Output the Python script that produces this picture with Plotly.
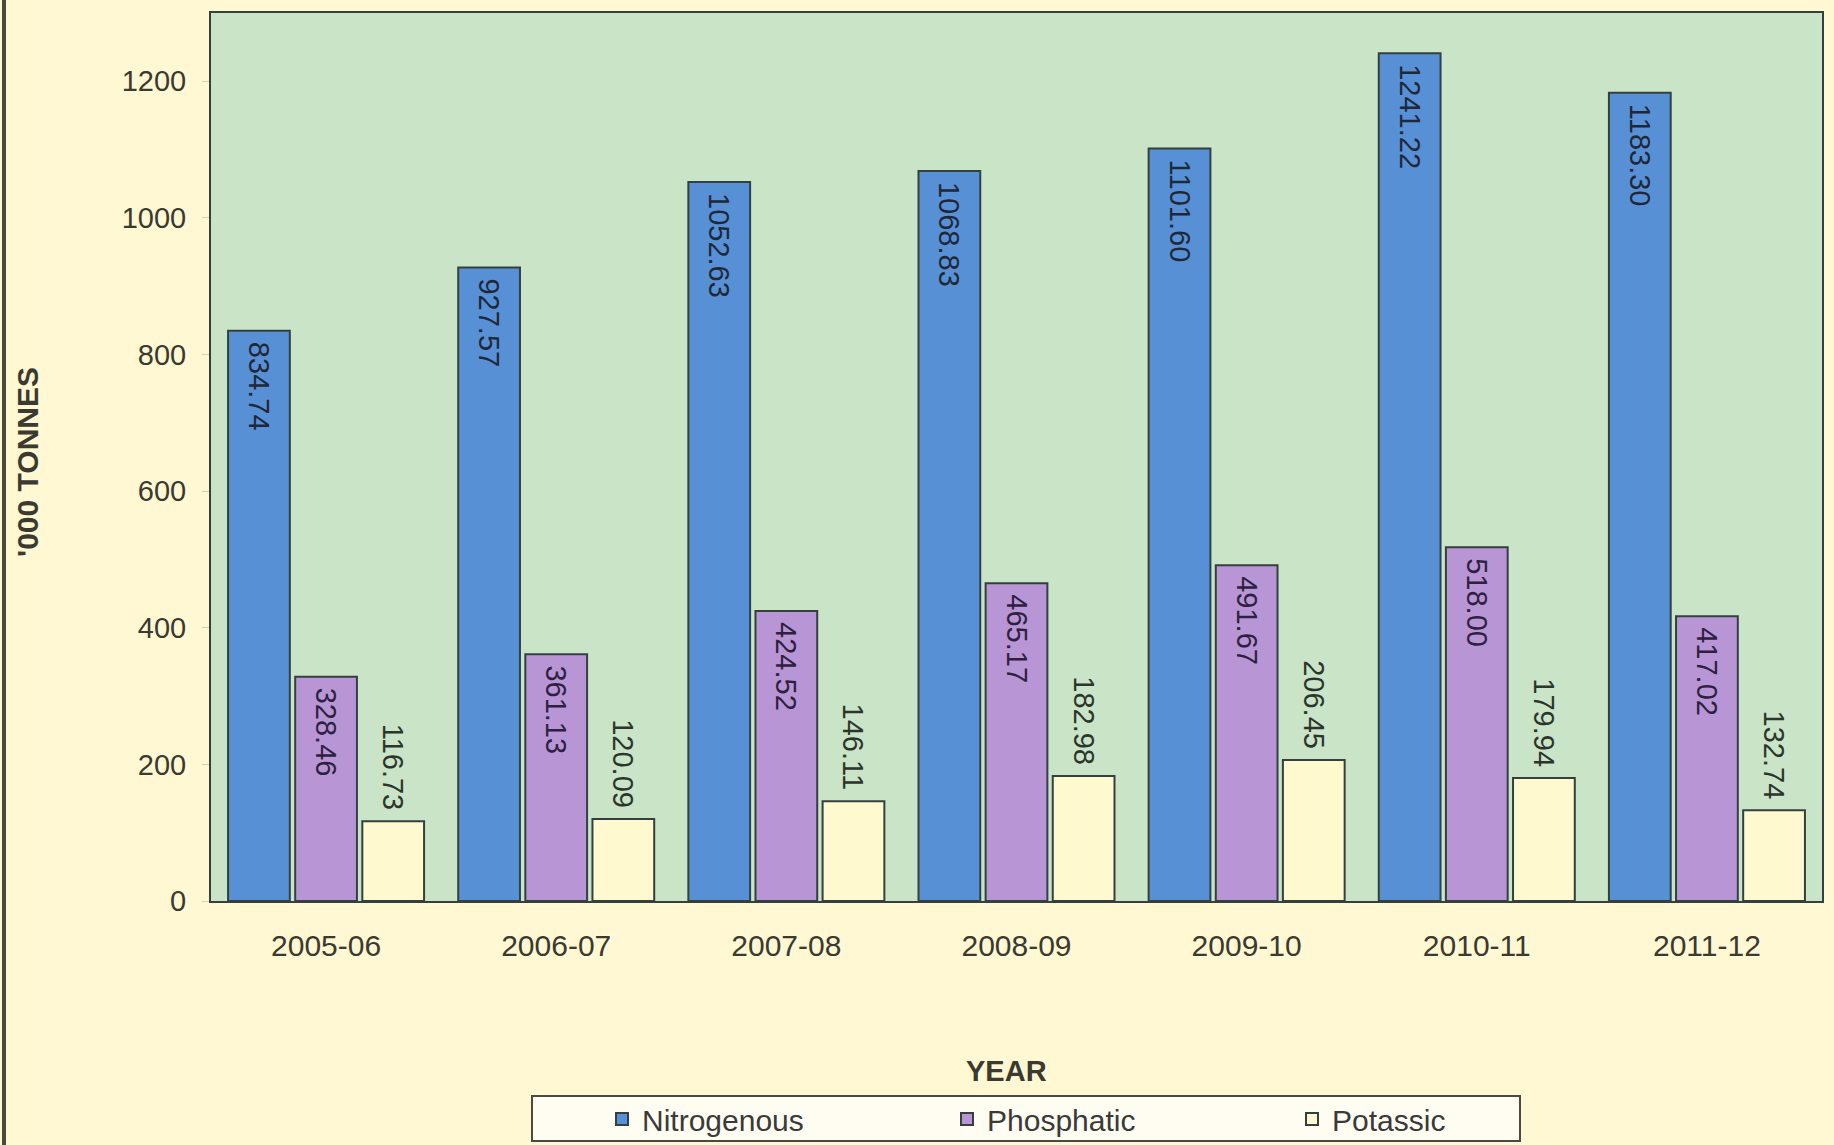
import plotly.graph_objects as go

years = ["2005-06", "2006-07", "2007-08", "2008-09", "2009-10", "2010-11", "2011-12"]
nitrogenous = [834.74, 927.57, 1052.63, 1068.83, 1101.60, 1241.22, 1183.30]
phosphatic = [328.46, 361.13, 424.52, 465.17, 491.67, 518.00, 417.02]
potassic = [116.73, 120.09, 146.11, 182.98, 206.45, 179.94, 132.74]
y_ticks = [0, 200, 400, 600, 800, 1000, 1200]

FONT = "Liberation Sans, Arial, sans-serif"
OUTLINE = "#33403f"
NB = "\u00a0"

fig = go.Figure()
series = [
    ("Nitrogenous", nitrogenous, "rgb(88,144,214)", "inside", "#1e2838"),
    ("Phosphatic", phosphatic, "rgb(184,150,214)", "inside", "#2e2040"),
    ("Potassic", potassic, "rgb(255,249,208)", "outside", "#2c352c"),
]
for name, vals, color, pos, tcolor in series:
    if pos == "inside":
        labels = [NB + f"{v:.2f}" for v in vals]
    else:
        labels = [f"{v:.2f}" + NB for v in vals]
    fig.add_trace(go.Bar(
        name=name, x=years, y=vals,
        marker=dict(color=color, line=dict(color=OUTLINE, width=2)),
        text=labels,
        textposition=pos,
        insidetextanchor="end",
        textangle=90,
        textfont=dict(family=FONT, size=29, color=tcolor),
        constraintext="none",
        cliponaxis=False,
    ))

fig.update_layout(
    width=1834, height=1145,
    paper_bgcolor="rgb(255,248,210)",
    plot_bgcolor="rgb(201,228,199)",
    margin=dict(l=211, r=12, t=13, b=244, autoexpand=False),
    barmode="group",
    bargap=0.125,
    bargroupgap=0.08,
    font=dict(family=FONT, size=29, color="#3a3a30"),
    showlegend=True,
    legend=dict(
        orientation="h",
        x=(602 - 211) / 1611, xanchor="left",
        yref="container", y=1 - 1119 / 1145, yanchor="middle",
        bgcolor="rgba(0,0,0,0)",
        entrywidth=300, entrywidthmode="pixels",
        font=dict(family=FONT, size=30, color="#3a3a3a"),
        traceorder="normal",
    ),
    xaxis=dict(
        type="category",
        showline=True, linecolor=OUTLINE, linewidth=2, mirror=True,
        ticks="", ticklabelstandoff=17,
        tickfont=dict(size=30, color="#3a3a30"),
        showgrid=False,
    ),
    yaxis=dict(
        range=[0, 1300], tickvals=y_ticks,
        showline=True, linecolor=OUTLINE, linewidth=2, mirror=True,
        ticks="outside", ticklen=7, tickcolor="#d8d0b0", ticklabelstandoff=10,
        tickfont=dict(size=29, color="#3a3a30"),
        showgrid=False, zeroline=False,
    ),
    shapes=[
        dict(type="rect", xref="paper", yref="paper",
             x0=(532 - 211) / 1611, x1=(1520 - 211) / 1611,
             y0=(901 - 1141) / 888, y1=(901 - 1096) / 888,
             line=dict(color="#4a4a44", width=2), fillcolor="rgb(255,253,242)", layer="below"),
        dict(type="line", xref="paper", yref="paper",
             x0=(4 - 211) / 1611, x1=(4 - 211) / 1611,
             y0=(901 - 1145) / 888, y1=(901 - 0) / 888,
             line=dict(color="#4a4a40", width=4)),
    ],
    annotations=[
        dict(text="<b>YEAR</b>", xref="paper", yref="paper",
             x=(1006 - 211) / 1611, y=(901 - 1071) / 888,
             xanchor="center", yanchor="middle", showarrow=False,
             font=dict(family=FONT, size=29, color="#3a3a30")),
        dict(text="<b>'000 TONNES</b>", xref="paper", yref="paper",
             x=(27 - 211) / 1611, y=(901 - 462) / 888, textangle=-90,
             xanchor="center", yanchor="middle", showarrow=False,
             font=dict(family=FONT, size=30, color="#3a3a30")),
    ],
)

fig.write_html("out.html", config={"displayModeBar": False},
               post_script="document.body.style.margin='0';")
